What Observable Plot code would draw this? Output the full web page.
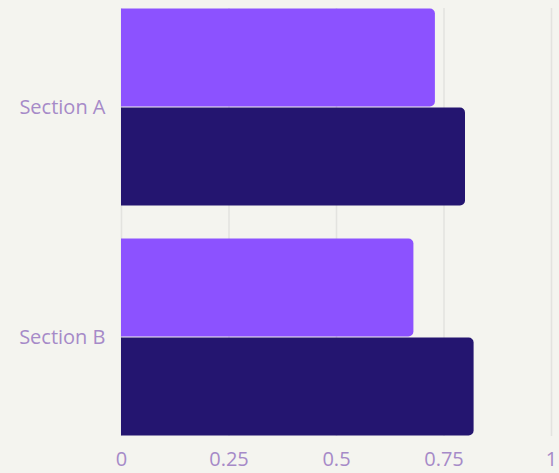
<!DOCTYPE html>
<html><head><meta charset="utf-8">
<script src="https://cdn.jsdelivr.net/npm/d3@7"></script>
<script src="https://cdn.jsdelivr.net/npm/@observablehq/plot@0.6"></script>
<style>
html,body{margin:0;padding:0;background:#f4f4ef;}
</style></head><body><div id="chart"></div>
<script>
const sections = ["Section A", "Section B"];
const series = ["Series 1", "Series 2"];
const series1Values = [0.73, 0.68];
const series2Values = [0.80, 0.82];
const xTicks = [0, 0.25, 0.5, 0.75, 1];
const xTickLabels = ["0", "0.25", "0.5", "0.75", "1"];
const colors = ["#8c52ff", "#241570"];

const data = sections.flatMap((s, i) => [
  {section: s, series: series[0], value: series1Values[i]},
  {section: s, series: series[1], value: series2Values[i]}
]);

const gridStyle = {stroke: "#e3e3df", strokeWidth: 1.5};

const chart = Plot.plot({
  width: 559, height: 473,
  marginTop: 7, marginBottom: 36, marginLeft: 121, marginRight: 8,
  style: {background: "#f4f4ef", fontFamily: "'Open Sans'", fontSize: "20px", color: "#a68ac8"},
  x: {domain: [0, 1], axis: null},
  y: {domain: series, axis: null, padding: 0},
  fy: {domain: sections, paddingInner: 0.1385, paddingOuter: 0, label: null},
  color: {domain: series, range: colors},
  marks: [
    Plot.ruleX(xTicks, {x: d => d, fy: () => sections[0], insetBottom: -32, ...gridStyle}),
    Plot.ruleX(xTicks, {x: d => d, fy: () => sections[1], ...gridStyle}),
    Plot.barX(data, {x: "value", y: "series", fy: "section", fill: "series", rx: 5,
      insetLeft: -6, insetTop: 0.5, insetBottom: 0.5, clip: true}),
    Plot.axisX({ticks: xTicks, tickFormat: d => xTickLabels[xTicks.indexOf(d)], tickSize: 0, tickPadding: 15, label: null}),
    Plot.axisFy({anchor: "left", tickSize: 0, tickPadding: 16, label: null})
  ]
});
document.getElementById("chart").appendChild(chart);
</script></body></html>
